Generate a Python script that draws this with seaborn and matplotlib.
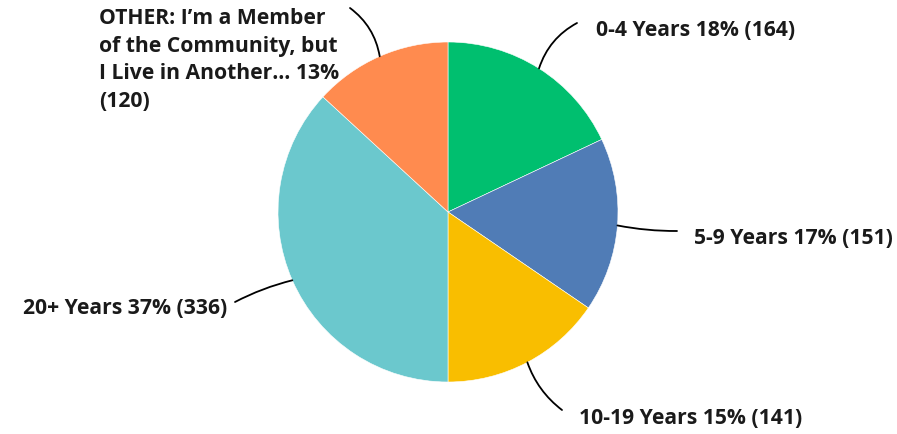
import numpy as np
import matplotlib
matplotlib.use("Agg")
import matplotlib.pyplot as plt
import seaborn as sns
from matplotlib.patches import FancyArrowPatch

categories = ["0-4 Years", "5-9 Years", "10-19 Years", "20+ Years",
              "OTHER: I\u2019m a Member\nof the Community, but\nI Live in Another\u2026"]
counts = [164, 151, 141, 336, 120]
percents = ["18%", "17%", "15%", "37%", "13%"]
colors = ["#00BF6F", "#507CB6", "#F9BE00", "#6BC8CD", "#FF8B4F"]

sns.set_theme(style="white")
plt.rcParams['font.family'] = ['Open Sans', 'DejaVu Sans']

W, H = 897, 435
fig = plt.figure(figsize=(W / 100, H / 100), dpi=100)
ax = fig.add_axes([0, 0, 1, 1])

cx, cy, R = 448, H - 213, 170
palette = sns.color_palette(colors)
wedges, _ = ax.pie(counts, colors=palette, startangle=90, counterclock=False,
                   center=(cx, cy), radius=R, frame=True,
                   wedgeprops=dict(edgecolor="white", linewidth=0.4))
ax.set_xlim(0, W)
ax.set_ylim(0, H)
ax.axis("off")

# label layout: (line end x, line end y from top, text x, text y from top, ha, rad)
layout = [
    (577, 24, 596, 31, "left", -0.2),
    (677, 232, 694, 239, "left", 0.05),
    (562, 411, 579, 419, "left", 0.15),
    (235, 303, 227, 309, "right", 0.06),
    (350, 9, 99, 60, "left", 0.2),
]

for w, cat, n, p, (ex, ey, tx, ty, ha, rad) in zip(wedges, categories, counts, percents, layout):
    ang = np.deg2rad((w.theta1 + w.theta2) / 2)
    sx, sy = cx + R * np.cos(ang), cy + R * np.sin(ang)
    line = FancyArrowPatch((sx, sy), (ex, H - ey), arrowstyle="-",
                           connectionstyle=f"arc3,rad={rad}", color="black",
                           linewidth=1.3, shrinkA=0, shrinkB=0)
    ax.add_patch(line)
    ax.text(tx, H - ty, f"{cat} {p}\n({n})" if "\n" in cat else f"{cat} {p} ({n})",
            ha=ha, va="center", fontsize=15.2, fontweight="bold", color="#1a1a1a",
            linespacing=1.42)

fig.savefig("out.png", dpi=100)
